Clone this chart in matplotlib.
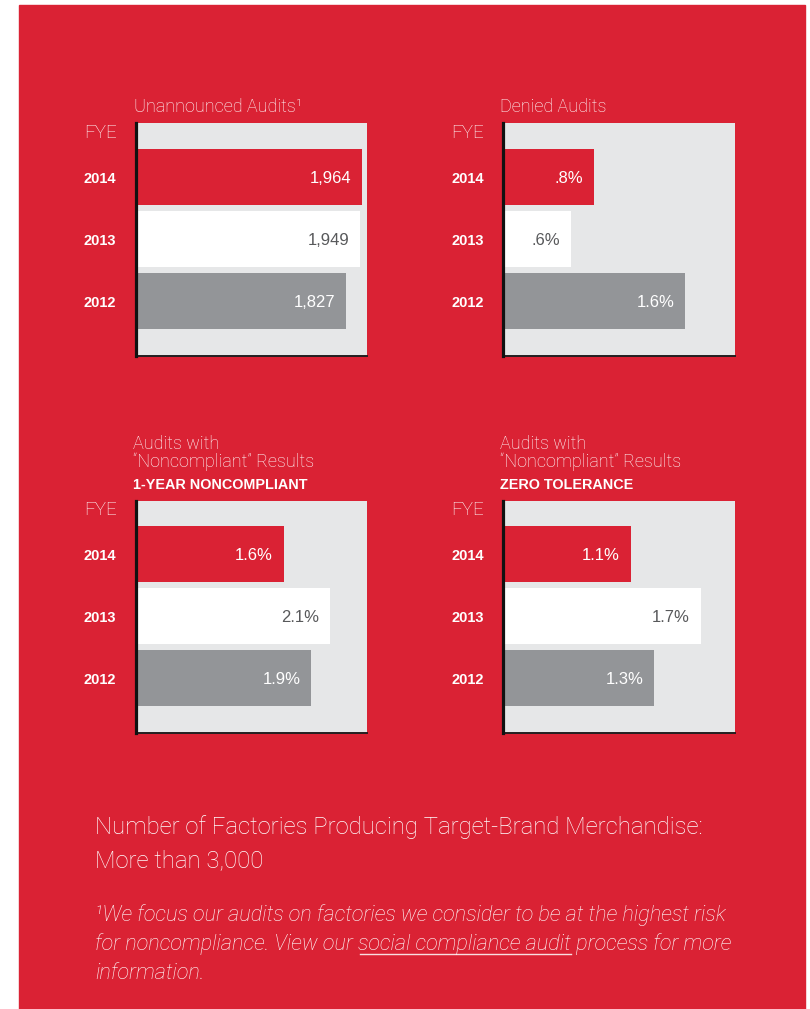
import matplotlib
matplotlib.use("Agg")
import matplotlib.pyplot as plt
from matplotlib.patches import Rectangle
from matplotlib.lines import Line2D
from matplotlib import transforms

# ---- data -------------------------------------------------------------
years = ["2014", "2013", "2012"]
unannounced_audits = [1964, 1949, 1827]
denied_audits = [0.8, 0.6, 1.6]
noncompliant_1yr = [1.6, 2.1, 1.9]
noncompliant_zero = [1.1, 1.7, 1.3]

titles = ["Unannounced Audits\u00b9", "Denied Audits",
          "Audits with\n\u201cNoncompliant\u201d Results",
          "Audits with\n\u201cNoncompliant\u201d Results"]
subtitles = [None, None, "1-YEAR NONCOMPLIANT", "ZERO TOLERANCE"]
headline = ["Number of Factories Producing Target-Brand Merchandise:",
            "More than 3,000"]
footnote = ["\u00b9We focus our audits on factories we consider to be at the highest risk",
            "for noncompliance. View our ", "social compliance audit",
            " process for more", "information."]

# ---- style ------------------------------------------------------------
RED = "#DA2234"
GRAY = "#939598"
PANEL = "#E6E7E8"
DARK = "#58595B"
bar_colors = [RED, "#FFFFFF", GRAY]
label_colors = ["white", DARK, "white"]

W, H, DPI = 810, 1009, 100
LIGHT = dict(family=["Roboto", "DejaVu Sans"], weight="light")
REG = dict(family=["Liberation Sans", "DejaVu Sans"])
BOLD = dict(family=["Liberation Sans", "DejaVu Sans"], weight="bold")

fig = plt.figure(figsize=(W / DPI, H / DPI), dpi=DPI)
fig.patch.set_facecolor("white")
fig.patches.append(Rectangle((19 / W, 0), (805 - 19) / W, 1 - 5 / H,
                             transform=fig.transFigure, color=RED, zorder=-10))


def fx(x):
    return x / W


def fy(y):
    return 1 - y / H


def fmt_count(v):
    return f"{v:,}"


def fmt_pct(v):
    return f"{v:.1f}%".lstrip("0")


PITCH = 62.0  # px between bar centres


def panel(left, right, top, bottom, first_center, values, xmax, fmt,
          title, subtitle, title_x, year_x, title_y, fye_y):
    ax = fig.add_axes([fx(left), fy(bottom), (right - left) / W, (bottom - top) / H])
    ax.set_facecolor(PANEL)
    pos = list(range(len(values)))
    ax.barh(pos, values, height=56 / PITCH, color=bar_colors, zorder=2)
    y0 = -(first_center - top) / PITCH
    ax.set_ylim(y0 + (bottom - top) / PITCH, y0)
    ax.set_xlim(0, xmax)
    ax.set_xticks([])
    ax.set_yticks([])
    for s in ("top", "right"):
        ax.spines[s].set_visible(False)
    ax.spines["left"].set_linewidth(2.3)
    ax.spines["left"].set_color("#111111")
    ax.spines["left"].set_zorder(5)
    ax.spines["bottom"].set_linewidth(1.4)
    ax.spines["bottom"].set_color("#231F20")

    tr = transforms.blended_transform_factory(fig.transFigure, ax.transData)
    for i, v in enumerate(values):
        ax.annotate(fmt(v), xy=(v, i), xytext=(-8, 0), textcoords="offset points",
                    ha="right", va="center_baseline", color=label_colors[i],
                    fontsize=12, zorder=4, **REG)
        ax.text(fx(year_x), i, years[i], transform=tr, ha="left",
                va="center_baseline", color="white", fontsize=10.5, **BOLD)

    fig.text(fx(year_x), fy(fye_y), "FYE", ha="left", va="baseline",
             color="white", fontsize=13.5, **LIGHT)
    lines = title.split("\n")
    for k, line in enumerate(lines):
        fig.text(fx(title_x), fy(title_y + 18 * k), line, ha="left",
                 va="baseline", color="white", fontsize=13, **LIGHT)
    if subtitle:
        fig.text(fx(title_x), fy(title_y + 18 * len(lines) + 4), subtitle,
                 ha="left", va="baseline", color="white", fontsize=10.4, **BOLD)
    return ax


panel(135.5, 367, 123, 356, 177, unannounced_audits, 2007, fmt_count,
      titles[0], subtitles[0], 134, 84, 112, 138)
panel(502.5, 735, 123, 356, 177, denied_audits, 2.035, fmt_pct,
      titles[1], subtitles[1], 500, 451, 112, 138)
panel(135.5, 367, 501, 733, 554, noncompliant_1yr, 2.5, fmt_pct,
      titles[2], subtitles[2], 133, 84, 449, 515)
panel(502.5, 735, 501, 733, 554, noncompliant_zero, 1.99, fmt_pct,
      titles[3], subtitles[3], 500, 451, 449, 515)

# headline
fig.text(fx(95), fy(834), headline[0], ha="left", va="baseline",
         color="white", fontsize=17.2, **LIGHT)
fig.text(fx(95), fy(867), headline[1], ha="left", va="baseline",
         color="white", fontsize=17.2, **LIGHT)

# footnote with an underlined link phrase
ITAL = dict(family=["Roboto", "DejaVu Sans"], weight="light", style="italic")
fs = 15.6
fig.text(fx(95), fy(921), footnote[0], ha="left", va="baseline",
         color="white", fontsize=fs, **ITAL)
fig.canvas.draw()
renderer = fig.canvas.get_renderer()
x = fx(95)
for k, part in enumerate(footnote[1:4]):
    t = fig.text(x, fy(950), part, ha="left", va="baseline",
                 color="white", fontsize=fs, **ITAL)
    bb = t.get_window_extent(renderer).transformed(fig.transFigure.inverted())
    if k == 1:
        fig.lines.append(Line2D([x + 0.002, bb.x1], [fy(954), fy(954)],
                                transform=fig.transFigure, color="white",
                                linewidth=1.0, alpha=0.85))
    x = bb.x1
fig.text(fx(95), fy(979), footnote[4], ha="left", va="baseline",
         color="white", fontsize=fs, **ITAL)

fig.savefig("out.png", dpi=DPI, facecolor=fig.get_facecolor())
